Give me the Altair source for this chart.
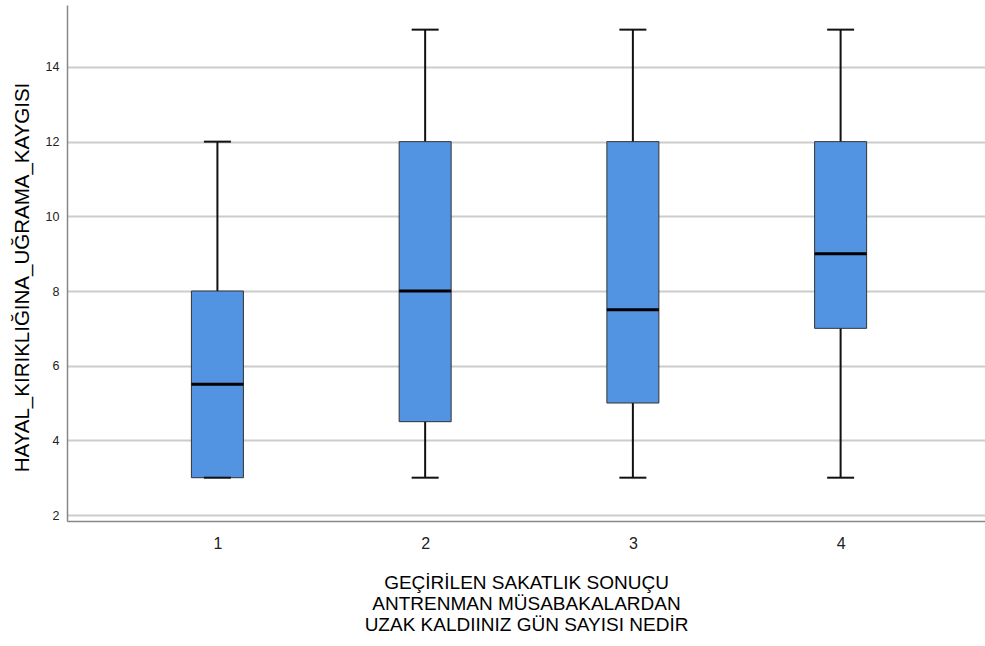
import altair as alt
import pandas as pd

# Five-number summaries per group
groups = [1, 2, 3, 4]
mins = [3, 3, 3, 3]
q1s = [3, 4.5, 5, 7]
medians = [5.5, 8, 7.5, 9]
q3s = [8, 12, 12, 12]
maxs = [12, 15, 15, 15]

y_ticks = [2, 4, 6, 8, 10, 12, 14]

df = pd.DataFrame({
    "grp": groups,
    "lo": mins,
    "q1": q1s,
    "med": medians,
    "q3": q3s,
    "hi": maxs,
})

x_scale = alt.Scale(domain=[0.300, 4.671], nice=False, zero=False)
y_scale = alt.Scale(domain=[1.84, 15.66], nice=False, zero=False)

x_enc = alt.X(
    "grp:Q",
    scale=x_scale,
    axis=alt.Axis(
        values=groups,
        format="d",
        grid=False,
        ticks=False,
        labelFontSize=16,
        labelColor="#222222",
        labelPadding=14,
        domainColor="#888888",
        domainWidth=1.5,
        title=[
            "GEÇİRİLEN SAKATLIK SONUÇU",
            "ANTRENMAN MÜSABAKALARDAN",
            "UZAK KALDIINIZ GÜN SAYISI NEDİR",
        ],
        titleFontSize=19,
        titleFontWeight="normal",
        titleColor="#000000",
        titleLineHeight=21,
        titlePadding=22,
    ),
)

y_axis = alt.Axis(
    values=y_ticks,
    grid=True,
    gridColor="#cccccc",
    gridWidth=2,
    ticks=False,
    labelFontSize=12.5,
    labelColor="#222222",
    labelPadding=8,
    domainColor="#888888",
    domainWidth=1.5,
    title="HAYAL_KIRIKLIĞINA_UĞRAMA_KAYGISI",
    titleFontSize=20.5,
    titleFontWeight="normal",
    titleColor="#000000",
    titlePadding=13,
    titleY=272,
)

base = alt.Chart(df)

whisker = base.mark_rule(color="#111111", strokeWidth=2).encode(
    x=x_enc,
    y=alt.Y("lo:Q", scale=y_scale, axis=y_axis),
    y2="hi:Q",
)

box = base.mark_bar(size=52, color="#5294e2", stroke="#333333", strokeWidth=1, opacity=1).encode(
    x="grp:Q",
    y="q1:Q",
    y2="q3:Q",
)

median = base.mark_tick(orient="horizontal", size=52, thickness=3, color="#000000", opacity=1).encode(
    x="grp:Q",
    y="med:Q",
)

cap_hi = base.mark_tick(orient="horizontal", size=27, thickness=2, color="#111111", opacity=1).encode(
    x="grp:Q",
    y="hi:Q",
)

cap_lo = base.mark_tick(orient="horizontal", size=27, thickness=2, color="#111111", opacity=1).encode(
    x="grp:Q",
    y="lo:Q",
)

chart = (
    alt.layer(whisker, box, median, cap_hi, cap_lo)
    .properties(
        width=918,
        height=516,
        padding={"left": 67, "top": 5, "right": 0, "bottom": 125},
        autosize=alt.AutoSizeParams(type="none"),
    )
    .configure_view(stroke=None)
    .configure_axis(labelFont="Liberation Sans", titleFont="Liberation Sans")
)

chart.save("out.html", embed_options={"renderer": "svg", "actions": False})
